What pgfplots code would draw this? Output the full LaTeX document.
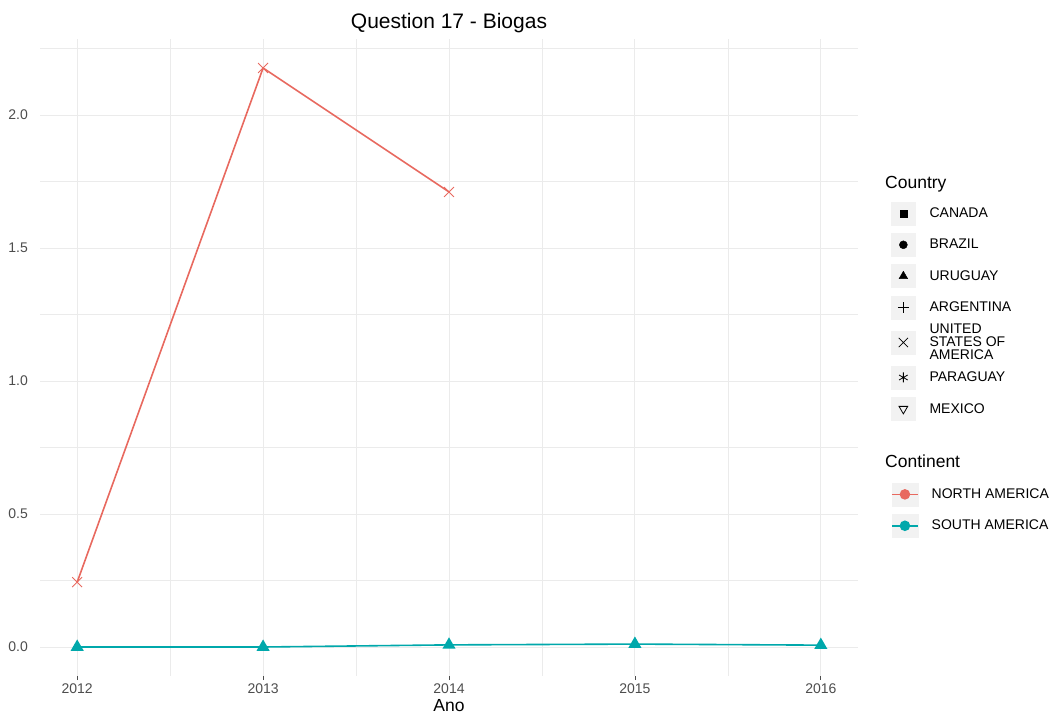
\documentclass[border=0pt]{standalone}
\usepackage{pgfplots}
\pgfplotsset{compat=1.18}
\usepackage{fontspec}
\setmainfont{Liberation Sans}
\definecolor{nacol}{HTML}{E8695F}
\definecolor{sacol}{HTML}{00A8AB}
\definecolor{gridcol}{HTML}{EBEBEB}
\definecolor{keybg}{HTML}{F2F2F2}
\definecolor{tickcol}{HTML}{4D4D4D}
\pgfplotsset{
  countrykey/.style={legend image code/.code={
     \fill[keybg] (0pt,-11.5pt) rectangle (24pt,11.5pt);
     \draw[mark repeat=2,mark phase=2] plot coordinates {(0pt,0pt)(12pt,0pt)(24pt,0pt)};}},
  contkey/.style={legend image code/.code={
     \fill[keybg] (0pt,-11.5pt) rectangle (26pt,11.5pt);
     \draw[line width=1.5pt,mark repeat=2,mark phase=2] plot coordinates {(0pt,0pt)(13pt,0pt)(26pt,0pt)};}},
}
\newcommand{\usaentry}{\vbox to 29pt{\vss\hbox{UNITED}\hbox{STATES OF}\hbox{AMERICA}\vss}}
\begin{document}
\begin{tikzpicture}
\path[use as bounding box] (0pt,0pt) rectangle (1057pt,720pt);
\begin{axis}[
  at={(40pt,44pt)}, anchor=south west,
  width=818pt, height=637pt, scale only axis,
  xmin=2011.8, xmax=2016.2, ymin=-0.109, ymax=2.286,
  axis line style={draw=none},
  xtick={2012,2013,2014,2015,2016},
  xticklabels={2012,2013,2014,2015,2016},
  ytick={0,0.5,1,1.5,2},
  yticklabels={0.0,0.5,1.0,1.5,2.0},
  minor xtick={2012.5,2013.5,2014.5,2015.5},
  minor ytick={0.25,0.75,1.25,1.75,2.25},
  grid=both,
  major grid style={draw=gridcol, line width=1pt},
  minor grid style={draw=gridcol, line width=0.6pt},
  xtick pos=bottom, ytick pos=left,
  tick align=outside,
  major tick length=4pt, minor tick length=0pt,
  xtick style={draw=tickcol, line width=0.8pt},
  ytick style={draw=none},
  xticklabel style={anchor=base, inner sep=0pt, yshift=-13pt, text=tickcol, font=\fontsize{14}{16}\selectfont},
  yticklabel style={anchor=east, inner sep=0pt, xshift=-8pt, text=tickcol, font=\fontsize{14}{16}\selectfont},
  title={Question 17 - Biogas},
  title style={at={(axis description cs:0.5,1.0078)}, anchor=base, inner sep=0pt, font=\fontsize{21}{25}\selectfont},
  xlabel={Ano},
  xlabel style={at={(axis description cs:0.5,-0.0565)}, anchor=base, inner sep=0pt, font=\fontsize{17.5}{20}\selectfont},
  legend style={at={(axis description cs:1.0403,0.7449)}, anchor=north west, draw=none, fill=none,
    inner sep=0pt, row sep=8pt, column sep=14pt, nodes={inner sep=0pt},
    cells={anchor=west}, font=\fontsize{14}{12.8}\selectfont},
]
\addplot[forget plot, nacol, line width=1.6pt, mark=x, mark size=7pt, mark options={line width=0.9pt}]
  coordinates {(2012,0.244)(2013,2.177)(2014,1.711)};
\addplot[forget plot, sacol, line width=1.6pt, mark=triangle*, mark size=6pt, mark options={fill=sacol}]
  coordinates {(2012,0)(2013,0)(2014,0.008)(2015,0.011)(2016,0.007)};
\addlegendimage{countrykey, only marks, black, mark=square*, mark size=3.5pt}
\addlegendentry{CANADA}
\addlegendimage{countrykey, only marks, black, mark=*, mark size=4pt}
\addlegendentry{BRAZIL}
\addlegendimage{countrykey, only marks, black, mark=triangle*, mark size=5pt}
\addlegendentry{URUGUAY}
\addlegendimage{countrykey, only marks, black, mark=+, mark size=5.5pt, mark options={line width=0.8pt}}
\addlegendentry{ARGENTINA}
\addlegendimage{countrykey, only marks, black, mark=x, mark size=6.5pt, mark options={line width=0.8pt}}
\addlegendentry{\usaentry}
\addlegendimage{countrykey, only marks, black, mark=asterisk, mark size=5pt, mark options={line width=0.8pt}}
\addlegendentry{PARAGUAY}
\addlegendimage{countrykey, only marks, black, mark=triangle, mark size=5pt, mark options={rotate=180, line width=0.8pt}}
\addlegendentry{MEXICO}
\end{axis}
\begin{axis}[
  at={(40pt,44pt)}, anchor=south west,
  width=818pt, height=637pt, scale only axis, hide axis,
  xmin=0, xmax=1, ymin=0, ymax=1,
  legend style={at={(axis description cs:1.0403,0.3038)}, anchor=north west, draw=none, fill=none,
    inner sep=0pt, row sep=8pt, column sep=13pt, nodes={inner sep=0pt},
    cells={anchor=west}, font=\fontsize{14}{12.8}\selectfont},
]
\addlegendimage{contkey, nacol, mark=*, mark size=4.5pt, mark options={fill=nacol}}
\addlegendentry{NORTH AMERICA}
\addlegendimage{contkey, sacol, mark=*, mark size=4.5pt, mark options={fill=sacol}}
\addlegendentry{SOUTH AMERICA}
\end{axis}
\node[anchor=base west, inner sep=0pt, font=\fontsize{17.5}{20}\selectfont] at (885pt,531pt) {Country};
\node[anchor=base west, inner sep=0pt, font=\fontsize{17.5}{20}\selectfont] at (885pt,252pt) {Continent};
\end{tikzpicture}
\end{document}
